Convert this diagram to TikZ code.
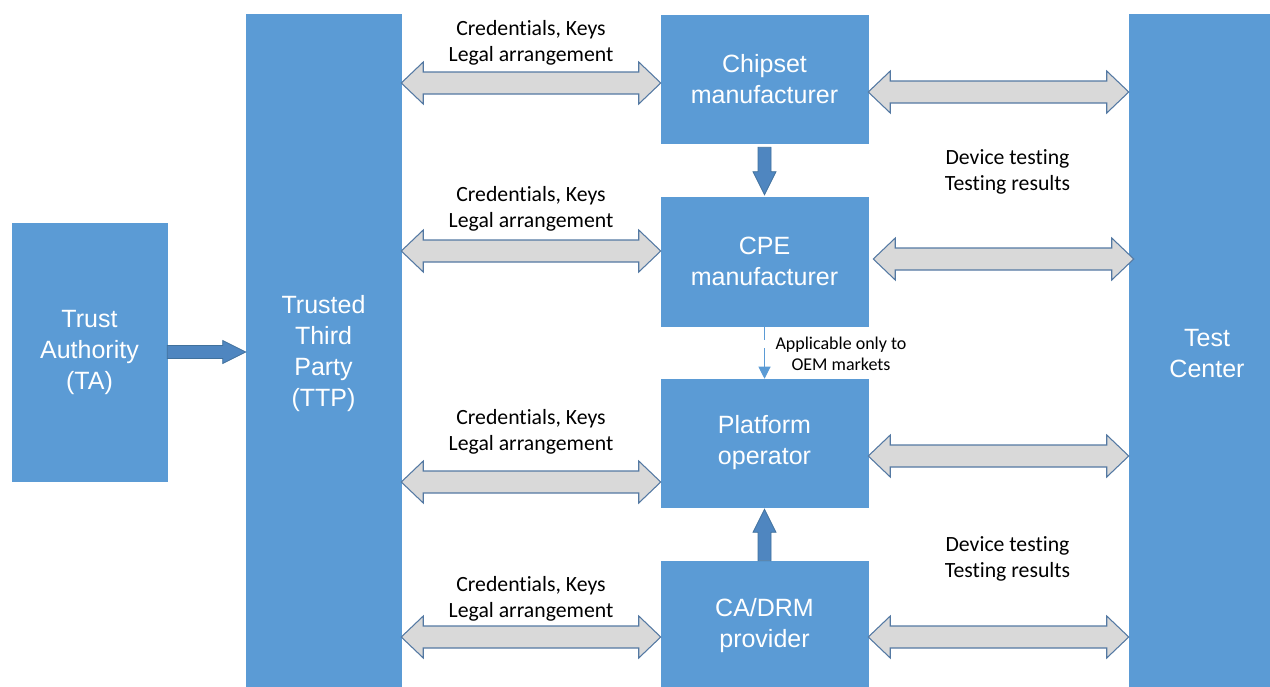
\documentclass[tikz,border=0pt]{standalone}
\usepackage{fontspec}
\setmainfont{Liberation Sans}
\newfontfamily\lblfont[Ligatures={NoCommon}]{Carlito}
\usetikzlibrary{calc,arrows.meta}

\definecolor{boxblue}{HTML}{5B9BD5}
\definecolor{solidblue}{HTML}{4F86C0}
\definecolor{edgeblue}{HTML}{41719C}
\definecolor{pipegray}{HTML}{D9D9D9}
\definecolor{pipeedge}{HTML}{5479A3}

% double-headed block arrow between two points at the height of the first one
\newcommand\twoway[2]{%
  \draw[pipe] let \p1=#1, \p2=#2 in
    (\x1,\y1) -- ({\x1+16.5pt},{\y1+15.75pt}) -- ({\x1+16.5pt},{\y1+8.25pt})
    -- ({\x2-16.5pt},{\y1+8.25pt}) -- ({\x2-16.5pt},{\y1+15.75pt}) -- (\x2,\y1)
    -- ({\x2-16.5pt},{\y1-15.75pt}) -- ({\x2-16.5pt},{\y1-8.25pt})
    -- ({\x1+16.5pt},{\y1-8.25pt}) -- ({\x1+16.5pt},{\y1-15.75pt}) -- cycle;}

\begin{document}
\begin{tikzpicture}[x=0.75pt,y=-0.75pt,
  party/.style={draw=boxblue,fill=boxblue,text=white,align=center,inner sep=0pt,
    font=\fontsize{18.75}{23.25}\selectfont},
  pipe/.style={draw=pipeedge,fill=pipegray,line width=0.8pt,line join=miter},
  solidarrow/.style={draw=edgeblue,fill=solidblue,line width=0.6pt},
  note/.style={align=center,inner sep=0pt,font=\lblfont\fontsize{16.3}{19.5}\selectfont},
  smallnote/.style={align=center,inner sep=0pt,font=\lblfont\fontsize{13.5}{16}\selectfont},
  thinlink/.style={draw=boxblue,line width=0.75pt}]

\useasboundingbox (0,0) rectangle (1270,686);

% parties
\node[party,minimum width=155*0.75pt,minimum height=258*0.75pt] (ta)   at (89.5,352)  {Trust\\Authority\\(TA)};
\node[party,minimum width=155*0.75pt,minimum height=680*0.75pt] (ttp)  at (323.5,354) {Trusted\\Third\\Party\\(TTP)};
\node[party,minimum width=207*0.75pt,minimum height=128*0.75pt] (chip) at (764.5,79)  {Chipset\\manufacturer};
\node[party,minimum width=207*0.75pt,minimum height=129*0.75pt] (cpe)  at (764.5,261.5) {CPE\\manufacturer};
\node[party,minimum width=207*0.75pt,minimum height=128*0.75pt] (plat) at (764.5,443) {Platform\\operator};
\node[party,minimum width=207*0.75pt,minimum height=129*0.75pt] (ca)   at (764.5,625.5) {CA/DRM\\provider};
\node[party,minimum width=156*0.75pt,minimum height=680*0.75pt] (tc)   at (1207,354)  {Test\\Center};

% heights of the block arrows
\coordinate (l1) at (0,83);  \coordinate (r1) at (0,92);
\coordinate (l2) at (0,251); \coordinate (r2) at (0,259);
\coordinate (l3) at (0,482); \coordinate (r3) at (0,456);
\coordinate (l4) at (0,637); \coordinate (r4) at (0,637);

% exchanges with the trusted third party
\twoway{(ttp.east |- l1)}{(chip.west |- l1)}
\twoway{(ttp.east |- l2)}{(cpe.west |- l2)}
\twoway{(ttp.east |- l3)}{(plat.west |- l3)}
\twoway{(ttp.east |- l4)}{(ca.west |- l4)}

% exchanges with the test center
\twoway{(chip.east |- r1)}{(tc.west |- r1)}
\twoway{($(cpe.east |- r2)+(5,0)$)}{($(tc.west |- r2)+(5,0)$)}
\twoway{(plat.east |- r3)}{(tc.west |- r3)}
\twoway{(ca.east |- r4)}{(tc.west |- r4)}

% TA -> TTP
\draw[solidarrow] let \p1=(ta.east), \p2=(ttp.west |- ta.east) in
  (\x1,{\y1+4.875pt}) -- ({\x2-17.25pt},{\y1+4.875pt}) -- ({\x2-17.25pt},{\y1+8.625pt})
  -- (\x2,\y1) -- ({\x2-17.25pt},{\y1-8.625pt}) -- ({\x2-17.25pt},{\y1-4.875pt})
  -- (\x1,{\y1-4.875pt}) -- cycle;

% Chipset -> CPE
\draw[solidarrow] let \p1=($(chip.south)+(0,4)$), \p2=($(cpe.north)+(0,-2)$) in
  ({\x1-4.875pt},\y1) -- ({\x1-4.875pt},{\y2+17.25pt}) -- ({\x1-8.625pt},{\y2+17.25pt})
  -- (\x1,\y2) -- ({\x1+8.625pt},{\y2+17.25pt}) -- ({\x1+4.875pt},{\y2+17.25pt})
  -- ({\x1+4.875pt},\y1) -- cycle;

% CA/DRM -> Platform
\draw[solidarrow] let \p1=(ca.north), \p2=($(plat.south)+(0,2)$) in
  ({\x1-4.875pt},\y1) -- ({\x1-4.875pt},{\y2-17.25pt}) -- ({\x1-8.625pt},{\y2-17.25pt})
  -- (\x1,\y2) -- ({\x1+8.625pt},{\y2-17.25pt}) -- ({\x1+4.875pt},{\y2-17.25pt})
  -- ({\x1+4.875pt},\y1) -- cycle;

% CPE -> Platform (OEM markets only)
\coordinate (gapTop) at (cpe.south |- 0,340);
\coordinate (gapBot) at (cpe.south |- 0,348);
\draw[thinlink] (cpe.south) -- (gapTop);
\draw[thinlink,-{Triangle[length=9pt,width=9pt]},draw=boxblue,fill=boxblue] (gapBot) -- (plat.north);

% labels
\node[note] (n1) at (531,42.5)  {Credentials, Keys\\Legal arrangement};
\node[note] (n2) at (531,208.5) {Credentials, Keys\\Legal arrangement};
\node[note] (n3) at (531,431.5) {Credentials, Keys\\Legal arrangement};
\node[note] (n4) at (531,598.5) {Credentials, Keys\\Legal arrangement};
\node[note] (d1) at (1007.5,172) {Device testing\\Testing results};
\node[note] (d2) at (1007.5,559) {Device testing\\Testing results};
\node[smallnote] (oem) at (841,353.5) {Applicable only to\\OEM markets};

\end{tikzpicture}
\end{document}
